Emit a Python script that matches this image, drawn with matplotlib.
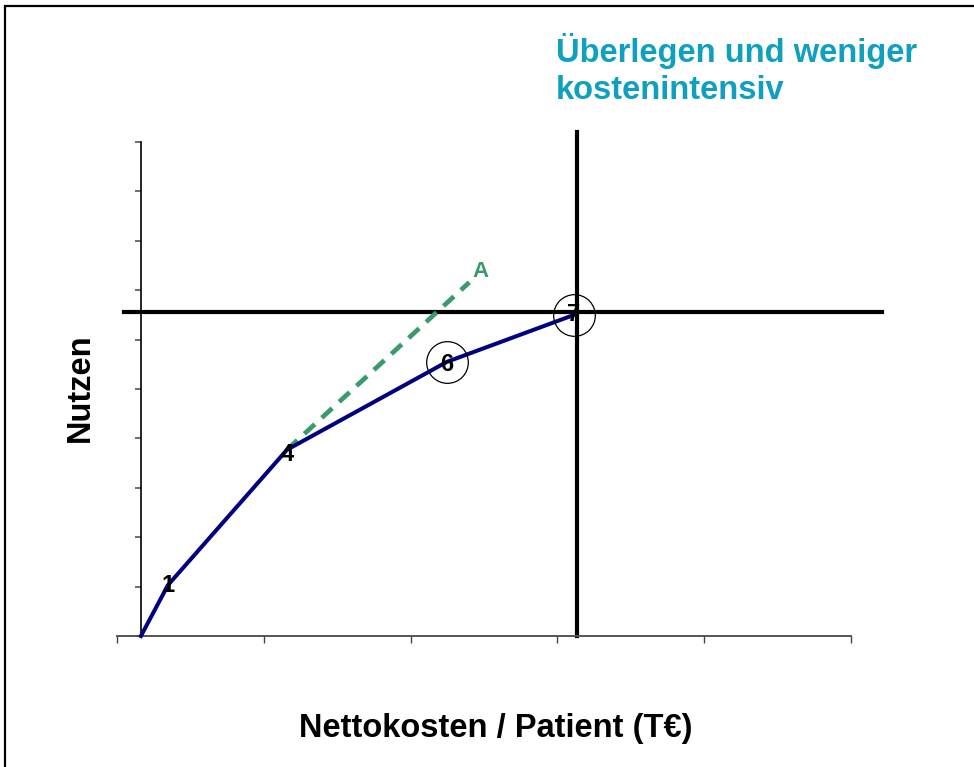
import matplotlib
matplotlib.use('Agg')
import matplotlib.pyplot as plt
from matplotlib.patches import Rectangle

plt.rcParams['font.family'] = ['Liberation Sans', 'DejaVu Sans']

# efficiency frontier (cost, benefit)
kosten = [0.163, 0.347, 1.158, 2.248, 3.113]
nutzen = [0.0, 1.03, 3.77, 5.55, 6.50]
punkt_labels = ['', '1', '4', '6', '7']
umkreist = ['6', '7']

# option A (dashed)
a_kosten = [1.158, 2.40]
a_nutzen = [3.77, 7.16]

# reference cross (option 7)
ref_x = 3.134
ref_y = 6.56

x_ticks = [0, 1, 2, 3, 4, 5]
y_ticks = list(range(0, 11))

fig = plt.figure(figsize=(9.74, 7.67), dpi=100)
ax = fig.add_axes([117 / 974, 1 - 636 / 767, 734 / 974, 494 / 767])

ax.set_xlim(0, 5)
ax.set_ylim(0, 10)

for s in ['top', 'right']:
    ax.spines[s].set_visible(False)
ax.spines['left'].set_position(('data', kosten[0]))
ax.spines['left'].set_color('black')
ax.spines['left'].set_linewidth(1.2)
ax.spines['bottom'].set_color('#555555')
ax.spines['bottom'].set_linewidth(1.4)
ax.set_xticks(x_ticks)
ax.set_yticks(y_ticks)
ax.set_xticklabels([])
ax.set_yticklabels([])
ax.tick_params(axis='x', direction='out', length=5, width=1, color='#444444')
ax.tick_params(axis='y', direction='out', length=4, width=1.2, color='#555555')

# reference cross lines
ax.plot([0.048, 5.21], [ref_y, ref_y], color='black', lw=3, clip_on=False, zorder=2)
ax.plot([ref_x, ref_x], [0, 10.2], color='black', lw=3, clip_on=False, zorder=2)

# option A
ax.plot(a_kosten, a_nutzen, color='#3a9a6e', lw=3.4, ls=(0, (3, 2)), zorder=3,
        solid_capstyle='butt')
ax.text(2.473, 7.38, 'A', color='#3a9a6e',
        fontsize=16, fontweight='bold', ha='center', va='center', zorder=5)

# frontier
ax.plot(kosten, nutzen, color='#000080', lw=2.9, zorder=4, clip_on=False)

for x, y, lab in zip(kosten, nutzen, punkt_labels):
    if not lab:
        continue
    if lab in umkreist:
        ax.plot(x, y, marker='o', markersize=30, markerfacecolor='none',
                markeredgecolor='black', markeredgewidth=0.9, zorder=5, clip_on=False)
    dy = -0.1 if lab == '4' else (-0.05 if lab == '6' else 0)
    ax.text(x, y + dy, lab, fontsize=17, fontweight='bold', ha='center',
            va='center', color='black', zorder=6)

fig.text(556 / 974, 1 - 62 / 767, 'Überlegen und weniger', color='#0fa0c0',
         fontsize=23.5, fontweight='bold', ha='left', va='baseline')
fig.text(556 / 974, 1 - 99 / 767, 'kostenintensiv', color='#0fa0c0',
         fontsize=23.5, fontweight='bold', ha='left', va='baseline')

fig.text(496 / 974, 1 - 737 / 767, 'Nettokosten / Patient (T€)', fontsize=23.5,
         fontweight='bold', ha='center', va='baseline')
fig.text(80 / 974, 1 - 388 / 767, 'Nutzen', fontsize=23.5, fontweight='bold',
         rotation=90, ha='center', va='center')

# slide frame
fig.patches.append(Rectangle((5 / 974, -0.1), 1.2, 1 - 6 / 767 + 0.1,
                             transform=fig.transFigure, fill=False,
                             edgecolor='black', lw=1.6))

fig.savefig('out.png', dpi=100)
